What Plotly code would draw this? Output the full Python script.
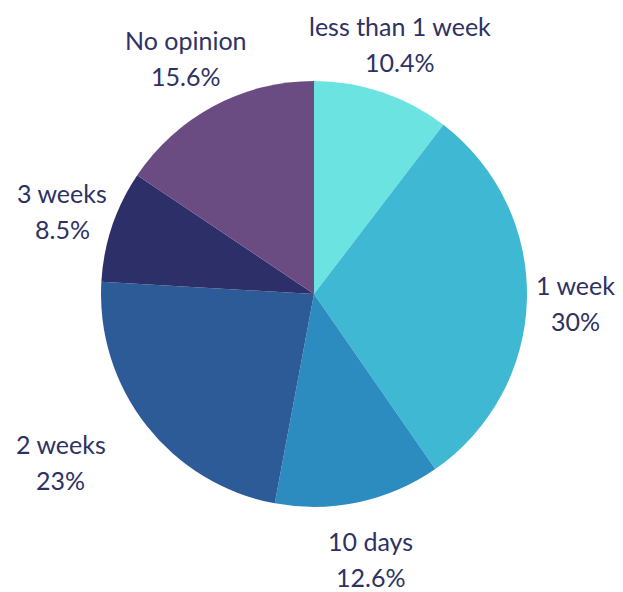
import math
import plotly.graph_objects as go

categories = ["less than 1 week", "1 week", "10 days", "2 weeks", "3 weeks", "No opinion"]
values = [10.4, 30, 12.6, 23, 8.5, 15.6]
value_labels = ["10.4%", "30%", "12.6%", "23%", "8.5%", "15.6%"]
colors = ["#6BE3E1", "#3FB8D4", "#2C8CC0", "#2D5B98", "#2D3068", "#6B4C82"]

# layout (pixels, in page coordinates; the page body has an 8px margin)
W, H = 623, 592
OFF = 8
cx, cy, R = 314 - OFF, 294 - OFF, 213
label_r = 268
label_nudge = [(0, 4), (-6, 3), (1, 3), (-42, 3), (2, 3), (-2, 1)]
line_gap = 18
font = dict(family="Lato, sans-serif", size=25, color="#2E3263")

fig = go.Figure(go.Pie(
    labels=categories,
    values=values,
    textinfo="none",
    sort=False,
    direction="clockwise",
    rotation=0,
    marker=dict(colors=colors, line=dict(width=0)),
    showlegend=False,
    automargin=False,
    domain=dict(x=[(cx - R) / W, (cx + R) / W], y=[1 - (cy + R) / H, 1 - (cy - R) / H]),
    hoverinfo="label+percent",
))

total = sum(values)
cum = 0.0
annotations = []
for name, v, pl, (nx, ny) in zip(categories, values, value_labels, label_nudge):
    mid = (cum + v / 2) / total * 2 * math.pi
    cum += v
    px = cx + label_r * math.sin(mid) + nx
    py = cy - label_r * math.cos(mid) + ny
    for txt, yy in ((name, py - line_gap), (pl, py + line_gap)):
        annotations.append(dict(
            x=px / W, y=1 - yy / H, xref="paper", yref="paper",
            text=txt, showarrow=False, xanchor="center", yanchor="middle",
            font=font,
        ))

fig.update_layout(
    width=W, height=H,
    margin=dict(l=0, r=0, t=0, b=0),
    paper_bgcolor="white",
    plot_bgcolor="white",
    annotations=annotations,
)

fig.write_html("out.html")
